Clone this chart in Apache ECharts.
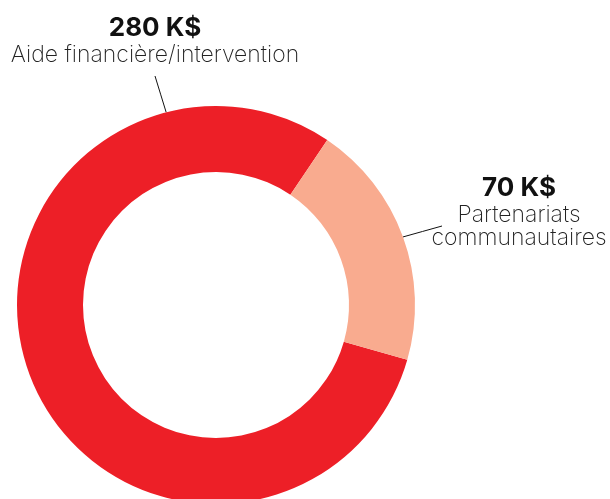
<!DOCTYPE html>
<html>
<head>
<meta charset="utf-8">
<script src="https://cdn.jsdelivr.net/npm/echarts@6/dist/echarts.min.js"></script>
<style>
html,body{margin:0;padding:0;background:#fff;}
#c{width:610px;height:499px;}
</style>
</head>
<body>
<div id="c"></div>
<script>
var categories = ['Aide financière/intervention', 'Partenariats communautaires'];
var nameLines = [['Aide financière/intervention'], ['Partenariats', 'communautaires']];
var values = [280, 70];
var valueLabels = ['280 K$', '70 K$'];
var colors = ['#ED1F27', '#F9AB8F'];

var CX = 216, CY = 305, R0 = 133, R1 = 199;
// label block anchors (center x, top y), line anchor angles (deg clockwise from top), line end
var labelAnchor = [[155, 13], [519, 173]];
var lineAngle = [-14.5, 70];
var lineEnd = [[155, 76], [442, 226]];

function edgePoint(a) {
  var r = a * Math.PI / 180;
  return [CX + R1 * Math.sin(r), CY - R1 * Math.cos(r)];
}

var chart = echarts.init(document.getElementById('c'), null, {renderer: 'canvas'});
var data = values.map(function (v, i) {
  return {
    name: categories[i],
    value: v,
    itemStyle: {color: colors[i]}
  };
});

chart.setOption({
  animation: false,
  series: [{
    type: 'pie',
    center: [CX, CY],
    radius: [R0, R1],
    startAngle: 90 - 106,
    clockwise: true,
    avoidLabelOverlap: false,
    data: data,
    itemStyle: {borderWidth: 0},
    emphasis: {disabled: true},
    label: {
      show: true,
      position: 'outside',
      overflow: 'none',
      formatter: function (p) {
        var i = p.dataIndex;
        return '{v|' + valueLabels[i] + '}\n' + nameLines[i].map(function (s) { return '{n|' + s + '}'; }).join('\n');
      },
      rich: {
        v: {fontFamily: 'Inter', fontWeight: 'bold', fontSize: 26, lineHeight: 30, color: '#111', align: 'center'},
        n: {fontFamily: 'Inter', fontWeight: 200, fontSize: 23, lineHeight: 23.5, color: '#222', align: 'center'}
      }
    },
    labelLine: {
      show: true,
      lineStyle: {color: '#111', width: 1}
    },
    labelLayout: function (params) {
      var i = params.dataIndex;
      var s = edgePoint(lineAngle[i]);
      var e = lineEnd[i];
      return {
        x: labelAnchor[i][0],
        y: labelAnchor[i][1],
        align: 'center',
        verticalAlign: 'top',
        hideOverlap: false,
        labelLinePoints: [s, [(s[0] + e[0]) / 2, (s[1] + e[1]) / 2], e]
      };
    }
  }]
});
</script>
</body>
</html>
